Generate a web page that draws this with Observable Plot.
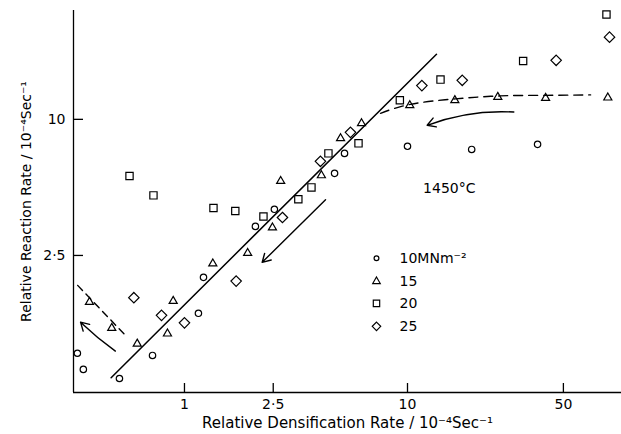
<!DOCTYPE html>
<html>
<head>
<meta charset="utf-8">
<script src="https://cdn.jsdelivr.net/npm/d3@7"></script>
<script src="https://cdn.jsdelivr.net/npm/@observablehq/plot@0.6"></script>
<style>
  html, body { margin: 0; padding: 0; background: #fff; }
</style>
</head>
<body>
<div id="chart"></div>
<script>
// ---- Data ----
const circlesX = [0.331, 0.352, 0.511, 0.719, 1.155, 1.217, 2.08, 2.53, 4.71, 5.22, 10.0, 19.4, 38.3];
const circlesY = [0.923, 0.783, 0.714, 0.903, 1.387, 2.0, 3.36, 4.0, 5.77, 7.07, 7.6, 7.36, 7.75];

const trianglesX = [0.375, 0.472, 0.614, 0.839, 0.890, 1.34, 1.92, 2.48, 2.70, 4.11, 5.01, 6.22, 10.24, 16.3, 25.4, 41.6, 79.1];
const trianglesY = [1.555, 1.193, 1.017, 1.127, 1.571, 2.30, 2.56, 3.32, 5.33, 5.65, 8.24, 9.60, 11.53, 12.14, 12.55, 12.42, 12.47];

const squaresX = [0.567, 0.726, 1.349, 1.69, 2.26, 3.24, 3.71, 4.42, 6.03, 9.24, 14.06, 33.0, 78.0];
const squaresY = [5.61, 4.61, 4.05, 3.93, 3.72, 4.43, 5.00, 7.07, 7.83, 12.14, 14.99, 18.1, 29.1];

const diamondsX = [0.593, 0.789, 1.0, 1.705, 2.75, 4.07, 5.55, 11.6, 17.6, 46.4, 80.5];
const diamondsY = [1.626, 1.358, 1.258, 1.925, 3.68, 6.52, 8.76, 14.1, 14.88, 18.24, 23.1];

// fitted straight line
const fitX = [0.469, 13.49];
const fitY = [0.72, 19.4];
// parallel arrow (decreasing)
const arrowDownX = [4.29, 2.23];
const arrowDownY = [4.41, 2.33];
// right dashed curve (15 MNm-2 plateau)
const dashRightX = [7.57, 10.31, 16.4, 26.1, 41.6, 66.2];
const dashRightY = [10.63, 11.65, 12.32, 12.70, 12.77, 12.83];
// right curved arrow
const arrowRightX = [29.97, 12.25];
const arrowRightY = [10.77, 9.41];
// left dashed line
const dashLeftX = [0.332, 0.553];
const dashLeftY = [1.843, 1.088];
// left curved arrow
const arrowLeftX = [0.490, 0.342];
const arrowLeftY = [0.944, 1.267];

// axes
const xDomain = [0.318, 91.1];
const yDomain = [0.619, 30.3];
const xTickValues = [1, 2.5, 10, 50];
const xTickLabels = ["1", "2·5", "10", "50"];
const yTickValues = [2.5, 10];
const yTickLabels = ["2·5", "10"];
const xTitle = "Relative Densification Rate / 10⁻⁴Sec⁻¹";
const yTitle = "Relative Reaction Rate / 10⁻⁴Sec⁻¹";

// legend
const legendLabels = ["10MNm⁻²", "15", "20", "25"];
const legendSymbols = ["circle", "triangle", "square", "diamond2"];
const legendMarkerX = 7.26;
const legendTextX = 9.21;
const legendY = [2.43, 1.92, 1.535, 1.214];

const annotation = "1450°C";
const annotationX = 15.4;
const annotationY = 4.95;

// ---- Build tables ----
const toPts = (xs, ys) => xs.map((x, i) => ({x, y: ys[i]}));
const circles = toPts(circlesX, circlesY);
const triangles = toPts(trianglesX, trianglesY);
const squares = toPts(squaresX, squaresY);
const diamonds = toPts(diamondsX, diamondsY);
const fit = toPts(fitX, fitY);
const dashRight = toPts(dashRightX, dashRightY);
const dashLeft = toPts(dashLeftX, dashLeftY);
const arrowStraight = [{x1: arrowDownX[0], y1: arrowDownY[0], x2: arrowDownX[1], y2: arrowDownY[1]}];
const bentRight = [{x1: arrowRightX[0], y1: arrowRightY[0], x2: arrowRightX[1], y2: arrowRightY[1]}];
const bentLeft = [{x1: arrowLeftX[0], y1: arrowLeftY[0], x2: arrowLeftX[1], y2: arrowLeftY[1]}];
const legendSize = {circle: 2.4, triangle: 2.8, square: 3.6, diamond2: 3.8};
const legend = legendLabels.map((label, i) => ({label, symbol: legendSymbols[i], x: legendMarkerX, tx: legendTextX, y: legendY[i]}));
const xTicks = xTickValues.map((v, i) => ({v, label: xTickLabels[i]}));

const dotOpts = {fill: "none", stroke: "#000", strokeWidth: 1.2};

const chart = Plot.plot({
  width: 621,
  height: 434,
  marginLeft: 73,
  marginRight: 0,
  marginTop: 10,
  marginBottom: 42,
  style: {fontFamily: "DejaVu Sans", fontSize: "14px", color: "#000", background: "#fff"},
  x: {type: "log", domain: xDomain},
  y: {type: "log", domain: yDomain},
  symbol: {domain: legendSymbols, range: legendSymbols},
  r: {type: "identity"},
  marks: [
    Plot.ruleY([yDomain[0]], {stroke: "#000", strokeWidth: 1.3}),
    Plot.ruleX([xDomain[0]], {stroke: "#000", strokeWidth: 1.3}),
    Plot.axisX(xTickValues, {
      tickSize: -9, strokeWidth: 1.3, fontSize: 15,
      tickFormat: () => "",
      label: xTitle, labelAnchor: "center", labelOffset: 35, labelArrow: "none"
    }),
    Plot.text(xTicks, {x: "v", y: () => yDomain[0], text: "label", dy: 12, fontSize: 14, lineAnchor: "middle"}),
    Plot.axisY(yTickValues, {
      tickSize: -10, tickPadding: 18, strokeWidth: 1.3, fontSize: 14,
      tickFormat: d => yTickLabels[yTickValues.indexOf(d)],
      label: yTitle, labelAnchor: "center", labelOffset: 52, labelArrow: "none"
    }),
    Plot.line(fit, {x: "x", y: "y", stroke: "#000", strokeWidth: 1.5}),
    Plot.arrow(arrowStraight, {x1: "x1", y1: "y1", x2: "x2", y2: "y2", stroke: "#000", strokeWidth: 1.4, headLength: 10}),
    Plot.line(dashRight, {x: "x", y: "y", curve: "natural", stroke: "#000", strokeWidth: 1.4, strokeDasharray: "9,6"}),
    Plot.arrow(bentRight, {x1: "x1", y1: "y1", x2: "x2", y2: "y2", bend: -12, stroke: "#000", strokeWidth: 1.4, headLength: 10}),
    Plot.line(dashLeft, {x: "x", y: "y", stroke: "#000", strokeWidth: 1.4, strokeDasharray: "7,5"}),
    Plot.arrow(bentLeft, {x1: "x1", y1: "y1", x2: "x2", y2: "y2", bend: 4, stroke: "#000", strokeWidth: 1.4, headLength: 10}),
    Plot.dot(circles, {x: "x", y: "y", symbol: () => "circle", r: 3.2, ...dotOpts}),
    Plot.dot(triangles, {x: "x", y: "y", symbol: () => "triangle", r: 3.0, ...dotOpts}),
    Plot.dot(squares, {x: "x", y: "y", symbol: () => "square", r: 4.1, ...dotOpts}),
    Plot.dot(diamonds, {x: "x", y: "y", symbol: () => "diamond2", r: 4.7, ...dotOpts}),
    // legend
    Plot.dot(legend, {x: "x", y: "y", symbol: "symbol", r: d => legendSize[d.symbol], ...dotOpts}),
    Plot.text(legend, {x: "tx", y: "y", text: "label", textAnchor: "start", fontSize: 14}),
    Plot.text([annotation], {x: () => annotationX, y: () => annotationY, text: d => d, fontSize: 14})
  ]
});
document.getElementById("chart").appendChild(chart);
</script>
</body>
</html>
